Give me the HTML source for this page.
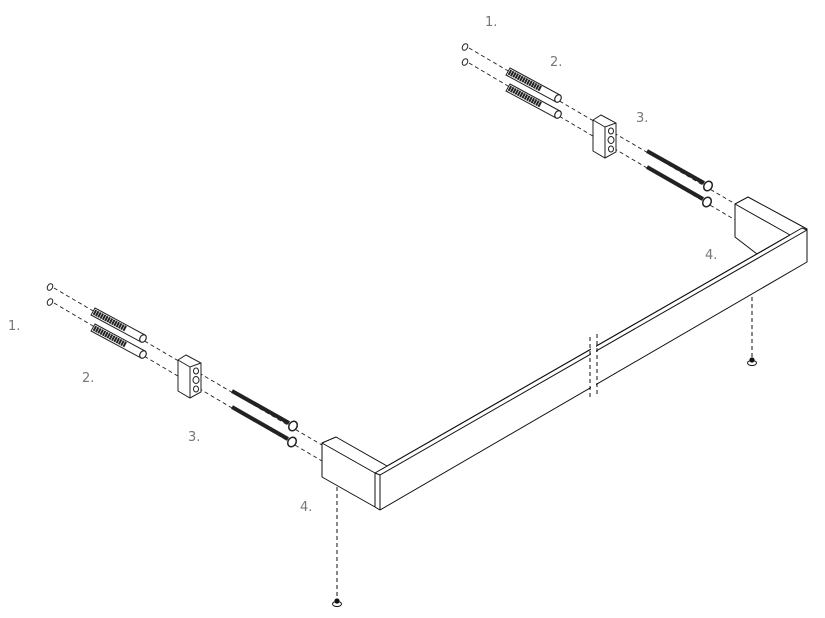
<!DOCTYPE html>
<html><head><style>
html,body{margin:0;padding:0;background:#fff;}
svg{display:block;}
text{font-family:"DejaVu Sans","Liberation Sans",sans-serif;font-size:13px;fill:#777;}
</style></head><body>
<svg width="825" height="618" viewBox="0 0 825 618" xmlns="http://www.w3.org/2000/svg">
<defs>
<g id="hw">
  <line x1="54" y1="288" x2="322" y2="445" stroke="#222" stroke-width="0.9" stroke-dasharray="4,3"/>
  <line x1="54" y1="303" x2="322" y2="461" stroke="#222" stroke-width="0.9" stroke-dasharray="4,3"/>
  <ellipse cx="50" cy="287" rx="2.5" ry="3.5" transform="rotate(30 50 287)" fill="#fff" stroke="#222" stroke-width="1"/>
  <ellipse cx="50" cy="302" rx="2.5" ry="3.5" transform="rotate(30 50 302)" fill="#fff" stroke="#222" stroke-width="1"/>
  <g stroke="#222" stroke-width="1" fill="#fff">
    <path d="M95,308 L145,335 L141,342 L91,315 Z"/>
    <path d="M95,324 L145,351 L141,358 L91,331 Z"/>
  </g>
  <line x1="94" y1="312" x2="126" y2="329" stroke="#222" stroke-width="5.5" stroke-dasharray="2,0.6"/>
  <line x1="94" y1="328" x2="126" y2="345" stroke="#222" stroke-width="5.5" stroke-dasharray="2,0.6"/>
  <ellipse cx="143" cy="338.5" rx="3" ry="4" transform="rotate(30 143 338.5)" fill="#fff" stroke="#222" stroke-width="1.2"/>
  <ellipse cx="143" cy="354.5" rx="3" ry="4" transform="rotate(30 143 354.5)" fill="#fff" stroke="#222" stroke-width="1.2"/>
  <g stroke="#222" stroke-width="1" fill="#fff">
    <path d="M178,360 L186,355 L201,363 L201,392 L190,398 L178,391 Z"/>
    <path d="M178,360 L190,367 L201,363 M190,367 L190,398" fill="none"/>
    <ellipse cx="196" cy="371" rx="2.5" ry="3" fill="none"/>
    <ellipse cx="196" cy="380" rx="3" ry="3.5" fill="none"/>
    <ellipse cx="196" cy="389" rx="2.5" ry="3" fill="none"/>
  </g>
  <line x1="232" y1="391" x2="289" y2="423" stroke="#222" stroke-width="4"/>
  <line x1="232" y1="407" x2="288" y2="439" stroke="#222" stroke-width="4"/>
  <ellipse cx="293" cy="426" rx="4" ry="5" transform="rotate(30 293 426)" fill="#fff" stroke="#222" stroke-width="1.5"/>
  <ellipse cx="292" cy="442" rx="4" ry="5" transform="rotate(30 292 442)" fill="#fff" stroke="#222" stroke-width="1.5"/>
</g>
</defs>

<use href="#hw"/>
<use href="#hw" transform="translate(415,-240)"/>

<g stroke="#111" stroke-width="1" stroke-linejoin="round">
  <path fill="#fff" d="M322,443 L336,437 L387,466 L757,254 L735,237 L735,204 L748,197 L807,229 L807,262 L380,510 L375,507 L322,477 Z"/>
  <g fill="none">
    <line x1="322" y1="443" x2="375" y2="473"/>
    <line x1="375" y1="473" x2="375" y2="507"/>
    <line x1="380" y1="475" x2="380" y2="510"/>
    <line x1="375" y1="473" x2="380" y2="475"/>
    <line x1="375" y1="473" x2="802" y2="228"/>
    <line x1="380" y1="475" x2="807" y2="230"/>
    <line x1="802" y1="228" x2="807" y2="230"/>
    <line x1="735" y1="204" x2="790" y2="235"/>
    <line x1="757" y1="254" x2="790" y2="235"/>
  </g>
</g>
<polygon points="591,330 596,330 596,405 591,405" fill="#fff"/>
<g stroke="#111" stroke-width="1" fill="none">
  <line x1="590" y1="337" x2="590" y2="400" stroke-dasharray="4,3"/>
  <line x1="597" y1="334" x2="597" y2="397" stroke-dasharray="4,3"/>
  <line x1="337" y1="487" x2="337" y2="598" stroke-dasharray="4,3"/>
  <line x1="752" y1="297" x2="752" y2="357" stroke-dasharray="4,3"/>
</g>
<ellipse cx="337" cy="604" rx="4.5" ry="2.5" fill="#fff" stroke="#111" stroke-width="1"/>
<circle cx="337" cy="601" r="2.6" fill="#111"/>
<ellipse cx="752" cy="363" rx="4.5" ry="2.5" fill="#fff" stroke="#111" stroke-width="1"/>
<circle cx="752" cy="360" r="2.6" fill="#111"/>

<text x="485" y="26">1.</text>
<text x="550" y="66">2.</text>
<text x="636" y="122">3.</text>
<text x="705" y="259">4.</text>
<text x="8" y="330">1.</text>
<text x="82" y="382">2.</text>
<text x="188" y="441">3.</text>
<text x="300" y="511">4.</text>
</svg>
</body></html>
